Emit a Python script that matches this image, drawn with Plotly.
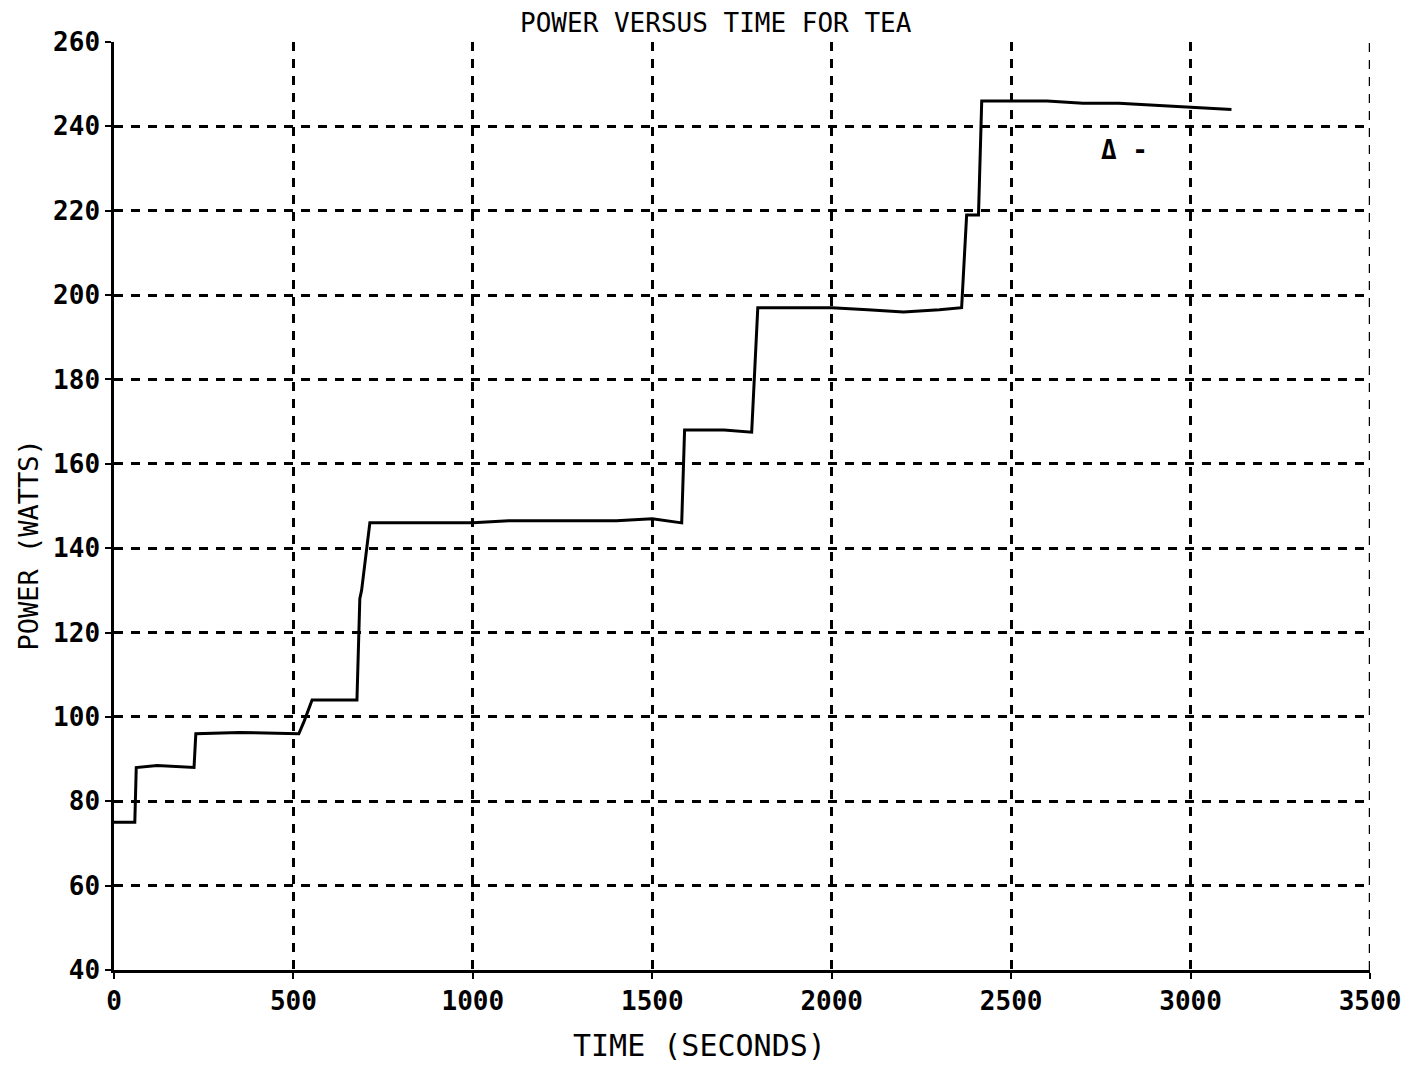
import plotly.graph_objects as go

# ── Data ──────────────────────────────────────────────────────────────────────

time_s = [0, 58, 62, 120, 223, 228, 350, 515, 530, 552, 600, 677, 685, 690,
          700, 713, 800, 900, 1000, 1100, 1200, 1300, 1400, 1500, 1582, 1590,
          1700, 1777, 1794, 1900, 2000, 2100, 2200, 2300, 2362, 2376, 2409,
          2418, 2500, 2600, 2700, 2800, 2900, 3000, 3114]
power_w = [75, 75, 88, 88.5, 88, 96, 96.3, 96, 99, 104, 104, 104, 128, 130,
           137, 146, 146, 146, 146, 146.5, 146.5, 146.5, 146.5, 147, 146, 168,
           168, 167.5, 197, 197, 197, 196.5, 196, 196.5, 197, 219, 219, 246,
           246, 246, 245.5, 245.5, 245, 244.5, 244]

x_ticks = [0, 500, 1000, 1500, 2000, 2500, 3000, 3500]
y_ticks = [40, 60, 80, 100, 120, 140, 160, 180, 200, 220, 240, 260]

FONT = "DejaVu Sans Mono"

fig = go.Figure(
    go.Scatter(
        x=time_s,
        y=power_w,
        mode="lines",
        line=dict(color="black", width=3),
        hovertemplate="t=%{x}s<br>P=%{y} W<extra></extra>",
    )
)

fig.add_annotation(x=2815, y=234.5, text="Δ -", showarrow=False,
                   font=dict(family=FONT, size=26, color="black", weight="bold"))

# axis titles placed by hand (plotter put them off-centre)
fig.add_annotation(xref="paper", yref="paper", x=0.466, y=-0.081,
                   text="TIME (SECONDS)", showarrow=False,
                   xanchor="center", yanchor="middle",
                   font=dict(family=FONT, size=30, color="black"))
fig.add_annotation(xref="paper", yref="paper", x=-0.068, y=0.458,
                   text="POWER (WATTS)", showarrow=False, textangle=-90,
                   xanchor="center", yanchor="middle",
                   font=dict(family=FONT, size=27, color="black"))

axis_common = dict(
    automargin=False,
    showgrid=True,
    gridcolor="black",
    griddash="9px,8px",
    gridwidth=2.5,
    showline=True,
    linecolor="black",
    linewidth=2.5,
    ticks="outside",
    ticklen=6,
    tickwidth=2,
    tickcolor="black",
    zeroline=False,
    tickfont=dict(family=FONT, size=26, color="black", weight="bold"),
)

fig.update_xaxes(range=[0, 3500], tickvals=x_ticks, **axis_common)
fig.update_yaxes(range=[40, 260], tickvals=y_ticks, **axis_common)

# dashed right border (3500 gridline)
fig.add_shape(type="line", xref="x", yref="paper", x0=3500, x1=3500, y0=0, y1=1,
              line=dict(color="black", width=2.5, dash="9px,8px"))

fig.update_layout(
    title=dict(text="POWER VERSUS TIME FOR TEA", x=0.497, xanchor="center",
               y=0.986, yanchor="middle", automargin=False,
               font=dict(family=FONT, size=26, color="black")),
    width=1424,
    height=1065,
    paper_bgcolor="white",
    plot_bgcolor="white",
    showlegend=False,
    margin=dict(l=106, r=62, t=34, b=103),
)

fig.write_html("out.html")
